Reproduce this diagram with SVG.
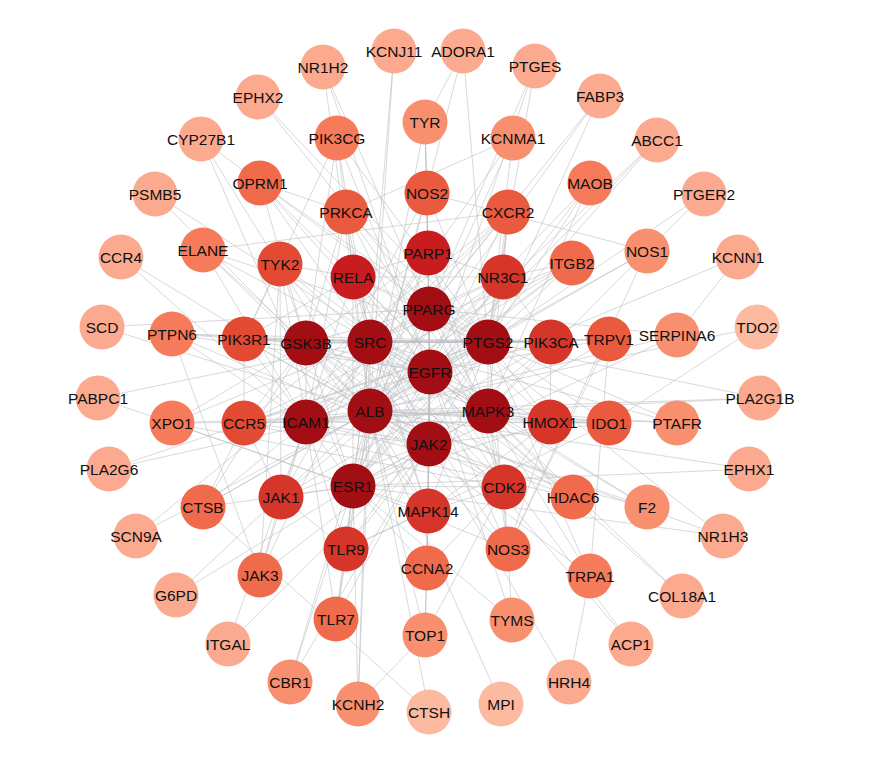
<svg xmlns="http://www.w3.org/2000/svg" width="878" height="768" viewBox="0 0 878 768">
<style>
.e line{stroke:#bcbfc3;stroke-width:0.8;stroke-opacity:0.75;fill:none}
.n circle{stroke:none}
.n text{font-family:"Liberation Sans",Arial,sans-serif;font-size:15.5px;fill:#101010;text-anchor:middle;dominant-baseline:central}
.t1 circle{fill:#a20e14}
.t2a circle{fill:#c91c1e}
.t2b circle{fill:#d6352a}
.t2c circle{fill:#e24a33}
.t3a circle{fill:#e95a3e}
.t3b circle{fill:#f06b4b}
.t3c circle{fill:#f57b5a}
.t4 circle{fill:#f8906f}
.t5 circle{fill:#fbaa8f}
.t6 circle{fill:#fcbba1}
</style>
<rect width="878" height="768" fill="#ffffff"/>
<g id="connectors" class="e">
<line x1="429" y1="309" x2="370" y2="342"/><line x1="429" y1="309" x2="306" y2="343"/><line x1="429" y1="309" x2="488" y2="342"/><line x1="429" y1="309" x2="430" y2="372"/><line x1="429" y1="309" x2="370" y2="411"/><line x1="429" y1="309" x2="306" y2="422"/><line x1="429" y1="309" x2="488" y2="411"/><line x1="429" y1="309" x2="429" y2="444"/><line x1="429" y1="309" x2="353" y2="486"/>
<line x1="370" y1="342" x2="306" y2="343"/><line x1="370" y1="342" x2="488" y2="342"/><line x1="370" y1="342" x2="430" y2="372"/><line x1="370" y1="342" x2="370" y2="411"/><line x1="370" y1="342" x2="306" y2="422"/><line x1="370" y1="342" x2="488" y2="411"/><line x1="370" y1="342" x2="429" y2="444"/><line x1="370" y1="342" x2="353" y2="486"/>
<line x1="306" y1="343" x2="488" y2="342"/><line x1="306" y1="343" x2="430" y2="372"/><line x1="306" y1="343" x2="370" y2="411"/><line x1="306" y1="343" x2="306" y2="422"/><line x1="306" y1="343" x2="488" y2="411"/><line x1="306" y1="343" x2="429" y2="444"/><line x1="306" y1="343" x2="353" y2="486"/>
<line x1="488" y1="342" x2="430" y2="372"/><line x1="488" y1="342" x2="370" y2="411"/><line x1="488" y1="342" x2="306" y2="422"/><line x1="488" y1="342" x2="488" y2="411"/><line x1="488" y1="342" x2="429" y2="444"/><line x1="488" y1="342" x2="353" y2="486"/>
<line x1="430" y1="372" x2="370" y2="411"/><line x1="430" y1="372" x2="306" y2="422"/><line x1="430" y1="372" x2="488" y2="411"/><line x1="430" y1="372" x2="429" y2="444"/><line x1="430" y1="372" x2="353" y2="486"/>
<line x1="370" y1="411" x2="306" y2="422"/><line x1="370" y1="411" x2="488" y2="411"/><line x1="370" y1="411" x2="429" y2="444"/><line x1="370" y1="411" x2="353" y2="486"/>
<line x1="306" y1="422" x2="488" y2="411"/><line x1="306" y1="422" x2="429" y2="444"/><line x1="306" y1="422" x2="353" y2="486"/>
<line x1="488" y1="411" x2="429" y2="444"/><line x1="488" y1="411" x2="353" y2="486"/><line x1="429" y1="444" x2="353" y2="486"/>
<line x1="353" y1="277" x2="429" y2="309"/><line x1="353" y1="277" x2="370" y2="342"/><line x1="353" y1="277" x2="430" y2="372"/><line x1="353" y1="277" x2="488" y2="411"/><line x1="353" y1="277" x2="488" y2="342"/><line x1="353" y1="277" x2="306" y2="422"/><line x1="353" y1="277" x2="353" y2="486"/><line x1="353" y1="277" x2="429" y2="444"/><line x1="353" y1="277" x2="428" y2="253"/><line x1="353" y1="277" x2="280" y2="264"/>
<line x1="428" y1="253" x2="429" y2="309"/><line x1="428" y1="253" x2="370" y2="342"/><line x1="428" y1="253" x2="430" y2="372"/><line x1="428" y1="253" x2="306" y2="343"/><line x1="428" y1="253" x2="370" y2="411"/><line x1="428" y1="253" x2="353" y2="486"/><line x1="428" y1="253" x2="488" y2="411"/>
<line x1="503" y1="277" x2="429" y2="309"/><line x1="503" y1="277" x2="488" y2="342"/><line x1="503" y1="277" x2="430" y2="372"/><line x1="503" y1="277" x2="353" y2="486"/><line x1="503" y1="277" x2="370" y2="411"/><line x1="503" y1="277" x2="370" y2="342"/><line x1="503" y1="277" x2="306" y2="422"/>
<line x1="551" y1="342" x2="488" y2="342"/><line x1="551" y1="342" x2="370" y2="342"/><line x1="551" y1="342" x2="306" y2="343"/><line x1="551" y1="342" x2="430" y2="372"/><line x1="551" y1="342" x2="488" y2="411"/><line x1="551" y1="342" x2="429" y2="444"/><line x1="551" y1="342" x2="244" y2="339"/>
<line x1="550" y1="422" x2="306" y2="422"/><line x1="550" y1="422" x2="488" y2="411"/><line x1="550" y1="422" x2="370" y2="411"/><line x1="550" y1="422" x2="429" y2="309"/><line x1="550" y1="422" x2="488" y2="342"/><line x1="550" y1="422" x2="430" y2="372"/><line x1="550" y1="422" x2="353" y2="486"/>
<line x1="504" y1="487" x2="488" y2="411"/><line x1="504" y1="487" x2="429" y2="444"/><line x1="504" y1="487" x2="430" y2="372"/><line x1="504" y1="487" x2="353" y2="486"/><line x1="504" y1="487" x2="306" y2="343"/><line x1="504" y1="487" x2="429" y2="309"/><line x1="504" y1="487" x2="370" y2="342"/>
<line x1="428" y1="511" x2="429" y2="444"/><line x1="428" y1="511" x2="430" y2="372"/><line x1="428" y1="511" x2="429" y2="309"/><line x1="428" y1="511" x2="370" y2="342"/><line x1="428" y1="511" x2="488" y2="342"/><line x1="428" y1="511" x2="370" y2="411"/><line x1="428" y1="511" x2="306" y2="343"/><line x1="428" y1="511" x2="353" y2="486"/>
<line x1="346" y1="549" x2="353" y2="486"/><line x1="346" y1="549" x2="370" y2="411"/><line x1="346" y1="549" x2="429" y2="444"/><line x1="346" y1="549" x2="306" y2="422"/><line x1="346" y1="549" x2="370" y2="342"/><line x1="346" y1="549" x2="488" y2="342"/>
<line x1="281" y1="497" x2="353" y2="486"/><line x1="281" y1="497" x2="306" y2="422"/><line x1="281" y1="497" x2="429" y2="444"/><line x1="281" y1="497" x2="370" y2="342"/><line x1="281" y1="497" x2="430" y2="372"/><line x1="281" y1="497" x2="280" y2="264"/><line x1="281" y1="497" x2="260" y2="575"/>
<line x1="244" y1="423" x2="306" y2="422"/><line x1="244" y1="423" x2="370" y2="411"/><line x1="244" y1="423" x2="306" y2="343"/><line x1="244" y1="423" x2="488" y2="411"/><line x1="244" y1="423" x2="430" y2="372"/><line x1="244" y1="423" x2="429" y2="444"/><line x1="244" y1="423" x2="488" y2="342"/>
<line x1="244" y1="339" x2="306" y2="343"/><line x1="244" y1="339" x2="370" y2="342"/><line x1="244" y1="339" x2="430" y2="372"/><line x1="244" y1="339" x2="488" y2="342"/><line x1="244" y1="339" x2="306" y2="422"/><line x1="244" y1="339" x2="370" y2="411"/><line x1="244" y1="339" x2="429" y2="444"/>
<line x1="280" y1="264" x2="306" y2="343"/><line x1="280" y1="264" x2="370" y2="342"/><line x1="280" y1="264" x2="429" y2="444"/><line x1="280" y1="264" x2="306" y2="422"/><line x1="280" y1="264" x2="430" y2="372"/>
<line x1="353" y1="277" x2="346" y2="212"/><line x1="353" y1="277" x2="503" y2="277"/><line x1="353" y1="277" x2="244" y2="339"/><line x1="428" y1="253" x2="503" y2="277"/><line x1="503" y1="277" x2="508" y2="212"/><line x1="503" y1="277" x2="572" y2="263"/><line x1="551" y1="342" x2="550" y2="422"/><line x1="551" y1="342" x2="503" y2="277"/><line x1="550" y1="422" x2="504" y2="487"/><line x1="504" y1="487" x2="428" y2="511"/><line x1="428" y1="511" x2="346" y2="549"/><line x1="346" y1="549" x2="281" y2="497"/><line x1="281" y1="497" x2="244" y2="423"/><line x1="244" y1="423" x2="244" y2="339"/><line x1="244" y1="339" x2="280" y2="264"/><line x1="428" y1="511" x2="550" y2="422"/><line x1="428" y1="511" x2="353" y2="277"/><line x1="428" y1="253" x2="504" y2="487"/><line x1="551" y1="342" x2="281" y2="497"/><line x1="244" y1="423" x2="508" y2="212"/><line x1="572" y1="263" x2="244" y2="423"/><line x1="609" y1="339" x2="508" y2="549"/><line x1="609" y1="423" x2="346" y2="549"/><line x1="573" y1="497" x2="244" y2="423"/><line x1="508" y1="549" x2="550" y2="422"/><line x1="172" y1="423" x2="504" y2="487"/><line x1="172" y1="334" x2="551" y2="342"/><line x1="203" y1="250" x2="508" y2="212"/><line x1="260" y1="183" x2="488" y2="342"/><line x1="260" y1="575" x2="172" y2="334"/><line x1="203" y1="507" x2="244" y2="423"/>
<line x1="346" y1="212" x2="370" y2="342"/><line x1="346" y1="212" x2="430" y2="372"/><line x1="346" y1="212" x2="306" y2="343"/><line x1="346" y1="212" x2="488" y2="342"/><line x1="346" y1="212" x2="488" y2="411"/><line x1="346" y1="212" x2="370" y2="411"/><line x1="346" y1="212" x2="306" y2="422"/>
<line x1="427" y1="193" x2="429" y2="309"/><line x1="427" y1="193" x2="428" y2="253"/><line x1="427" y1="193" x2="430" y2="372"/><line x1="427" y1="193" x2="370" y2="411"/><line x1="427" y1="193" x2="306" y2="422"/><line x1="427" y1="193" x2="488" y2="342"/>
<line x1="508" y1="212" x2="488" y2="342"/><line x1="508" y1="212" x2="306" y2="422"/><line x1="508" y1="212" x2="488" y2="411"/><line x1="508" y1="212" x2="430" y2="372"/><line x1="508" y1="212" x2="370" y2="342"/><line x1="508" y1="212" x2="429" y2="309"/>
<line x1="572" y1="263" x2="306" y2="422"/><line x1="572" y1="263" x2="370" y2="342"/><line x1="572" y1="263" x2="488" y2="342"/><line x1="572" y1="263" x2="370" y2="411"/><line x1="572" y1="263" x2="430" y2="372"/>
<line x1="609" y1="339" x2="488" y2="342"/><line x1="609" y1="339" x2="488" y2="411"/><line x1="609" y1="339" x2="551" y2="342"/><line x1="609" y1="339" x2="370" y2="342"/><line x1="609" y1="339" x2="430" y2="372"/>
<line x1="609" y1="423" x2="488" y2="411"/><line x1="609" y1="423" x2="488" y2="342"/><line x1="609" y1="423" x2="550" y2="422"/><line x1="609" y1="423" x2="429" y2="444"/><line x1="609" y1="423" x2="370" y2="411"/><line x1="609" y1="423" x2="306" y2="422"/>
<line x1="573" y1="497" x2="488" y2="411"/><line x1="573" y1="497" x2="430" y2="372"/><line x1="573" y1="497" x2="306" y2="343"/><line x1="573" y1="497" x2="429" y2="444"/><line x1="573" y1="497" x2="370" y2="342"/>
<line x1="508" y1="549" x2="488" y2="411"/><line x1="508" y1="549" x2="370" y2="411"/><line x1="508" y1="549" x2="353" y2="486"/><line x1="508" y1="549" x2="430" y2="372"/><line x1="508" y1="549" x2="488" y2="342"/><line x1="508" y1="549" x2="370" y2="342"/>
<line x1="427" y1="568" x2="504" y2="487"/><line x1="427" y1="568" x2="428" y2="511"/><line x1="427" y1="568" x2="429" y2="444"/><line x1="427" y1="568" x2="353" y2="486"/><line x1="427" y1="568" x2="430" y2="372"/><line x1="427" y1="568" x2="425" y2="635"/>
<line x1="260" y1="575" x2="429" y2="444"/><line x1="260" y1="575" x2="306" y2="422"/><line x1="260" y1="575" x2="280" y2="264"/><line x1="260" y1="575" x2="370" y2="342"/>
<line x1="203" y1="507" x2="306" y2="422"/><line x1="203" y1="507" x2="370" y2="411"/><line x1="203" y1="507" x2="353" y2="486"/><line x1="203" y1="507" x2="306" y2="343"/><line x1="203" y1="507" x2="488" y2="342"/>
<line x1="172" y1="423" x2="306" y2="422"/><line x1="172" y1="423" x2="306" y2="343"/><line x1="172" y1="423" x2="353" y2="486"/><line x1="172" y1="423" x2="488" y2="411"/><line x1="172" y1="423" x2="370" y2="342"/>
<line x1="172" y1="334" x2="306" y2="343"/><line x1="172" y1="334" x2="370" y2="342"/><line x1="172" y1="334" x2="429" y2="444"/><line x1="172" y1="334" x2="430" y2="372"/><line x1="172" y1="334" x2="306" y2="422"/>
<line x1="203" y1="250" x2="306" y2="422"/><line x1="203" y1="250" x2="370" y2="411"/><line x1="203" y1="250" x2="306" y2="343"/><line x1="203" y1="250" x2="488" y2="342"/><line x1="203" y1="250" x2="430" y2="372"/>
<line x1="260" y1="183" x2="370" y2="342"/><line x1="260" y1="183" x2="306" y2="343"/><line x1="260" y1="183" x2="488" y2="411"/><line x1="260" y1="183" x2="430" y2="372"/><line x1="260" y1="183" x2="346" y2="212"/>
<line x1="337" y1="138" x2="370" y2="342"/><line x1="337" y1="138" x2="488" y2="342"/><line x1="337" y1="138" x2="306" y2="343"/><line x1="337" y1="138" x2="244" y2="339"/><line x1="337" y1="138" x2="430" y2="372"/><line x1="337" y1="138" x2="346" y2="212"/>
<line x1="336" y1="619" x2="346" y2="549"/><line x1="336" y1="619" x2="353" y2="486"/><line x1="336" y1="619" x2="429" y2="444"/><line x1="336" y1="619" x2="306" y2="422"/><line x1="336" y1="619" x2="370" y2="411"/>
<line x1="425" y1="122" x2="429" y2="309"/><line x1="425" y1="122" x2="430" y2="372"/><line x1="425" y1="122" x2="427" y2="193"/><line x1="425" y1="122" x2="370" y2="411"/>
<line x1="513" y1="138" x2="488" y2="342"/><line x1="513" y1="138" x2="353" y2="486"/><line x1="513" y1="138" x2="346" y2="212"/><line x1="513" y1="138" x2="370" y2="342"/>
<line x1="590" y1="183" x2="353" y2="486"/><line x1="590" y1="183" x2="488" y2="342"/><line x1="590" y1="183" x2="488" y2="411"/><line x1="590" y1="183" x2="370" y2="411"/>
<line x1="647" y1="251" x2="427" y2="193"/><line x1="647" y1="251" x2="508" y2="549"/><line x1="647" y1="251" x2="488" y2="342"/><line x1="647" y1="251" x2="430" y2="372"/>
<line x1="677" y1="335" x2="370" y2="411"/><line x1="677" y1="335" x2="353" y2="486"/><line x1="677" y1="335" x2="429" y2="309"/>
<line x1="677" y1="423" x2="488" y2="342"/><line x1="677" y1="423" x2="370" y2="411"/><line x1="677" y1="423" x2="488" y2="411"/><line x1="677" y1="423" x2="370" y2="342"/>
<line x1="647" y1="507" x2="370" y2="411"/><line x1="647" y1="507" x2="430" y2="372"/><line x1="647" y1="507" x2="306" y2="422"/><line x1="647" y1="507" x2="370" y2="342"/>
<line x1="590" y1="576" x2="609" y2="339"/><line x1="590" y1="576" x2="488" y2="342"/><line x1="590" y1="576" x2="488" y2="411"/><line x1="590" y1="576" x2="370" y2="411"/>
<line x1="512" y1="620" x2="430" y2="372"/><line x1="512" y1="620" x2="353" y2="486"/><line x1="512" y1="620" x2="504" y2="487"/>
<line x1="425" y1="635" x2="430" y2="372"/><line x1="425" y1="635" x2="504" y2="487"/><line x1="425" y1="635" x2="370" y2="411"/>
<line x1="358" y1="704" x2="353" y2="486"/><line x1="358" y1="704" x2="370" y2="342"/><line x1="358" y1="704" x2="370" y2="411"/><line x1="358" y1="704" x2="425" y2="635"/>
<line x1="290" y1="682" x2="370" y2="411"/><line x1="290" y1="682" x2="353" y2="486"/><line x1="290" y1="682" x2="429" y2="444"/>
<line x1="323" y1="67" x2="429" y2="309"/><line x1="323" y1="67" x2="430" y2="372"/><line x1="323" y1="67" x2="370" y2="411"/>
<line x1="394" y1="51" x2="370" y2="411"/><line x1="394" y1="51" x2="370" y2="342"/>
<line x1="463" y1="51" x2="488" y2="342"/><line x1="463" y1="51" x2="370" y2="411"/><line x1="463" y1="51" x2="425" y2="122"/>
<line x1="535" y1="66" x2="488" y2="342"/><line x1="535" y1="66" x2="430" y2="372"/><line x1="535" y1="66" x2="429" y2="309"/>
<line x1="600" y1="96" x2="429" y2="309"/><line x1="600" y1="96" x2="370" y2="411"/><line x1="600" y1="96" x2="488" y2="342"/>
<line x1="657" y1="140" x2="370" y2="411"/><line x1="657" y1="140" x2="430" y2="372"/><line x1="657" y1="140" x2="353" y2="486"/>
<line x1="704" y1="194" x2="488" y2="342"/><line x1="704" y1="194" x2="488" y2="411"/>
<line x1="738" y1="257" x2="370" y2="411"/><line x1="738" y1="257" x2="677" y2="335"/>
<line x1="757" y1="327" x2="609" y2="423"/><line x1="757" y1="327" x2="370" y2="411"/>
<line x1="760" y1="398" x2="488" y2="342"/><line x1="760" y1="398" x2="370" y2="411"/><line x1="760" y1="398" x2="488" y2="411"/>
<line x1="749" y1="469" x2="370" y2="411"/><line x1="749" y1="469" x2="353" y2="486"/>
<line x1="723" y1="536" x2="429" y2="309"/><line x1="723" y1="536" x2="370" y2="411"/><line x1="723" y1="536" x2="353" y2="486"/>
<line x1="682" y1="596" x2="430" y2="372"/><line x1="682" y1="596" x2="488" y2="411"/>
<line x1="631" y1="644" x2="370" y2="342"/><line x1="631" y1="644" x2="430" y2="372"/>
<line x1="569" y1="682" x2="429" y2="444"/><line x1="569" y1="682" x2="590" y2="576"/>
<line x1="501" y1="704" x2="370" y2="411"/>
<line x1="429" y1="712" x2="370" y2="411"/><line x1="429" y1="712" x2="203" y2="507"/>
<line x1="228" y1="644" x2="306" y2="422"/><line x1="228" y1="644" x2="429" y2="444"/>
<line x1="176" y1="595" x2="370" y2="411"/><line x1="176" y1="595" x2="353" y2="486"/>
<line x1="136" y1="536" x2="370" y2="342"/><line x1="136" y1="536" x2="370" y2="411"/>
<line x1="109" y1="469" x2="488" y2="342"/><line x1="109" y1="469" x2="370" y2="411"/>
<line x1="98" y1="398" x2="353" y2="486"/><line x1="98" y1="398" x2="370" y2="342"/>
<line x1="102" y1="327" x2="429" y2="309"/><line x1="102" y1="327" x2="370" y2="411"/>
<line x1="121" y1="257" x2="306" y2="422"/><line x1="121" y1="257" x2="429" y2="444"/>
<line x1="155" y1="194" x2="430" y2="372"/><line x1="155" y1="194" x2="370" y2="411"/>
<line x1="201" y1="139" x2="370" y2="411"/><line x1="201" y1="139" x2="353" y2="486"/><line x1="201" y1="139" x2="429" y2="309"/>
<line x1="258" y1="97" x2="488" y2="342"/><line x1="258" y1="97" x2="429" y2="309"/>
</g>
<g id="nodes">
<g id="n-PPARG" class="n t1"><circle cx="429" cy="309" r="22.5"/><text x="429" y="309">PPARG</text></g>
<g id="n-SRC" class="n t1"><circle cx="370" cy="342" r="22.5"/><text x="370" y="342">SRC</text></g>
<g id="n-GSK3B" class="n t1"><circle cx="306" cy="343" r="22.5"/><text x="306" y="343">GSK3B</text></g>
<g id="n-PTGS2" class="n t1"><circle cx="488" cy="342" r="22.5"/><text x="488" y="342">PTGS2</text></g>
<g id="n-EGFR" class="n t1"><circle cx="430" cy="372" r="22.5"/><text x="430" y="372">EGFR</text></g>
<g id="n-ALB" class="n t1"><circle cx="370" cy="411" r="22.5"/><text x="370" y="411">ALB</text></g>
<g id="n-ICAM1" class="n t1"><circle cx="306" cy="422" r="22.5"/><text x="306" y="422">ICAM1</text></g>
<g id="n-MAPK3" class="n t1"><circle cx="488" cy="411" r="22.5"/><text x="488" y="411">MAPK3</text></g>
<g id="n-JAK2" class="n t1"><circle cx="429" cy="444" r="22.5"/><text x="429" y="444">JAK2</text></g>
<g id="n-ESR1" class="n t1"><circle cx="353" cy="486" r="22.5"/><text x="353" y="486">ESR1</text></g>
<g id="n-RELA" class="n t2a"><circle cx="353" cy="277" r="22.5"/><text x="353" y="277">RELA</text></g>
<g id="n-PARP1" class="n t2a"><circle cx="428" cy="253" r="22.5"/><text x="428" y="253">PARP1</text></g>
<g id="n-NR3C1" class="n t2b"><circle cx="503" cy="277" r="22.5"/><text x="503" y="277">NR3C1</text></g>
<g id="n-PIK3CA" class="n t2b"><circle cx="551" cy="342" r="22.5"/><text x="551" y="342">PIK3CA</text></g>
<g id="n-HMOX1" class="n t2b"><circle cx="550" cy="422" r="22.5"/><text x="550" y="422">HMOX1</text></g>
<g id="n-CDK2" class="n t2b"><circle cx="504" cy="487" r="22.5"/><text x="504" y="487">CDK2</text></g>
<g id="n-MAPK14" class="n t2b"><circle cx="428" cy="511" r="22.5"/><text x="428" y="511">MAPK14</text></g>
<g id="n-TLR9" class="n t2b"><circle cx="346" cy="549" r="22.5"/><text x="346" y="549">TLR9</text></g>
<g id="n-JAK1" class="n t2b"><circle cx="281" cy="497" r="22.5"/><text x="281" y="497">JAK1</text></g>
<g id="n-CCR5" class="n t2c"><circle cx="244" cy="423" r="22.5"/><text x="244" y="423">CCR5</text></g>
<g id="n-PIK3R1" class="n t2c"><circle cx="244" cy="339" r="22.5"/><text x="244" y="339">PIK3R1</text></g>
<g id="n-TYK2" class="n t2c"><circle cx="280" cy="264" r="22.5"/><text x="280" y="264">TYK2</text></g>
<g id="n-PRKCA" class="n t3a"><circle cx="346" cy="212" r="22.5"/><text x="346" y="212">PRKCA</text></g>
<g id="n-NOS2" class="n t3a"><circle cx="427" cy="193" r="22.5"/><text x="427" y="193">NOS2</text></g>
<g id="n-CXCR2" class="n t3a"><circle cx="508" cy="212" r="22.5"/><text x="508" y="212">CXCR2</text></g>
<g id="n-ITGB2" class="n t3b"><circle cx="572" cy="263" r="22.5"/><text x="572" y="263">ITGB2</text></g>
<g id="n-TRPV1" class="n t3a"><circle cx="609" cy="339" r="22.5"/><text x="609" y="339">TRPV1</text></g>
<g id="n-IDO1" class="n t3a"><circle cx="609" cy="423" r="22.5"/><text x="609" y="423">IDO1</text></g>
<g id="n-HDAC6" class="n t3b"><circle cx="573" cy="497" r="22.5"/><text x="573" y="497">HDAC6</text></g>
<g id="n-NOS3" class="n t3b"><circle cx="508" cy="549" r="22.5"/><text x="508" y="549">NOS3</text></g>
<g id="n-CCNA2" class="n t3b"><circle cx="427" cy="568" r="22.5"/><text x="427" y="568">CCNA2</text></g>
<g id="n-JAK3" class="n t3b"><circle cx="260" cy="575" r="22.5"/><text x="260" y="575">JAK3</text></g>
<g id="n-CTSB" class="n t3b"><circle cx="203" cy="507" r="22.5"/><text x="203" y="507">CTSB</text></g>
<g id="n-XPO1" class="n t3c"><circle cx="172" cy="423" r="22.5"/><text x="172" y="423">XPO1</text></g>
<g id="n-PTPN6" class="n t3c"><circle cx="172" cy="334" r="22.5"/><text x="172" y="334">PTPN6</text></g>
<g id="n-ELANE" class="n t3c"><circle cx="203" cy="250" r="22.5"/><text x="203" y="250">ELANE</text></g>
<g id="n-OPRM1" class="n t3b"><circle cx="260" cy="183" r="22.5"/><text x="260" y="183">OPRM1</text></g>
<g id="n-PIK3CG" class="n t3c"><circle cx="337" cy="138" r="22.5"/><text x="337" y="138">PIK3CG</text></g>
<g id="n-TLR7" class="n t3b"><circle cx="336" cy="619" r="22.5"/><text x="336" y="619">TLR7</text></g>
<g id="n-TYR" class="n t4"><circle cx="425" cy="122" r="22.5"/><text x="425" y="122">TYR</text></g>
<g id="n-KCNMA1" class="n t4"><circle cx="513" cy="138" r="22.5"/><text x="513" y="138">KCNMA1</text></g>
<g id="n-MAOB" class="n t3c"><circle cx="590" cy="183" r="22.5"/><text x="590" y="183">MAOB</text></g>
<g id="n-NOS1" class="n t4"><circle cx="647" cy="251" r="22.5"/><text x="647" y="251">NOS1</text></g>
<g id="n-SERPINA6" class="n t4"><circle cx="677" cy="335" r="22.5"/><text x="677" y="335">SERPINA6</text></g>
<g id="n-PTAFR" class="n t4"><circle cx="677" cy="423" r="22.5"/><text x="677" y="423">PTAFR</text></g>
<g id="n-F2" class="n t4"><circle cx="647" cy="507" r="22.5"/><text x="647" y="507">F2</text></g>
<g id="n-TRPA1" class="n t3c"><circle cx="590" cy="576" r="22.5"/><text x="590" y="576">TRPA1</text></g>
<g id="n-TYMS" class="n t4"><circle cx="512" cy="620" r="22.5"/><text x="512" y="620">TYMS</text></g>
<g id="n-TOP1" class="n t4"><circle cx="425" cy="635" r="22.5"/><text x="425" y="635">TOP1</text></g>
<g id="n-KCNH2" class="n t4"><circle cx="358" cy="704" r="22.5"/><text x="358" y="704">KCNH2</text></g>
<g id="n-CBR1" class="n t4"><circle cx="290" cy="682" r="22.5"/><text x="290" y="682">CBR1</text></g>
<g id="n-NR1H2" class="n t5"><circle cx="323" cy="67" r="22.5"/><text x="323" y="67">NR1H2</text></g>
<g id="n-KCNJ11" class="n t5"><circle cx="394" cy="51" r="22.5"/><text x="394" y="51">KCNJ11</text></g>
<g id="n-ADORA1" class="n t5"><circle cx="463" cy="51" r="22.5"/><text x="463" y="51">ADORA1</text></g>
<g id="n-PTGES" class="n t5"><circle cx="535" cy="66" r="22.5"/><text x="535" y="66">PTGES</text></g>
<g id="n-FABP3" class="n t5"><circle cx="600" cy="96" r="22.5"/><text x="600" y="96">FABP3</text></g>
<g id="n-ABCC1" class="n t5"><circle cx="657" cy="140" r="22.5"/><text x="657" y="140">ABCC1</text></g>
<g id="n-PTGER2" class="n t5"><circle cx="704" cy="194" r="22.5"/><text x="704" y="194">PTGER2</text></g>
<g id="n-KCNN1" class="n t5"><circle cx="738" cy="257" r="22.5"/><text x="738" y="257">KCNN1</text></g>
<g id="n-TDO2" class="n t6"><circle cx="757" cy="327" r="22.5"/><text x="757" y="327">TDO2</text></g>
<g id="n-PLA2G1B" class="n t5"><circle cx="760" cy="398" r="22.5"/><text x="760" y="398">PLA2G1B</text></g>
<g id="n-EPHX1" class="n t5"><circle cx="749" cy="469" r="22.5"/><text x="749" y="469">EPHX1</text></g>
<g id="n-NR1H3" class="n t5"><circle cx="723" cy="536" r="22.5"/><text x="723" y="536">NR1H3</text></g>
<g id="n-COL18A1" class="n t5"><circle cx="682" cy="596" r="22.5"/><text x="682" y="596">COL18A1</text></g>
<g id="n-ACP1" class="n t5"><circle cx="631" cy="644" r="22.5"/><text x="631" y="644">ACP1</text></g>
<g id="n-HRH4" class="n t5"><circle cx="569" cy="682" r="22.5"/><text x="569" y="682">HRH4</text></g>
<g id="n-MPI" class="n t6"><circle cx="501" cy="704" r="22.5"/><text x="501" y="704">MPI</text></g>
<g id="n-CTSH" class="n t6"><circle cx="429" cy="712" r="22.5"/><text x="429" y="712">CTSH</text></g>
<g id="n-ITGAL" class="n t5"><circle cx="228" cy="644" r="22.5"/><text x="228" y="644">ITGAL</text></g>
<g id="n-G6PD" class="n t5"><circle cx="176" cy="595" r="22.5"/><text x="176" y="595">G6PD</text></g>
<g id="n-SCN9A" class="n t5"><circle cx="136" cy="536" r="22.5"/><text x="136" y="536">SCN9A</text></g>
<g id="n-PLA2G6" class="n t5"><circle cx="109" cy="469" r="22.5"/><text x="109" y="469">PLA2G6</text></g>
<g id="n-PABPC1" class="n t5"><circle cx="98" cy="398" r="22.5"/><text x="98" y="398">PABPC1</text></g>
<g id="n-SCD" class="n t5"><circle cx="102" cy="327" r="22.5"/><text x="102" y="327">SCD</text></g>
<g id="n-CCR4" class="n t5"><circle cx="121" cy="257" r="22.5"/><text x="121" y="257">CCR4</text></g>
<g id="n-PSMB5" class="n t5"><circle cx="155" cy="194" r="22.5"/><text x="155" y="194">PSMB5</text></g>
<g id="n-CYP27B1" class="n t5"><circle cx="201" cy="139" r="22.5"/><text x="201" y="139">CYP27B1</text></g>
<g id="n-EPHX2" class="n t5"><circle cx="258" cy="97" r="22.5"/><text x="258" y="97">EPHX2</text></g>
</g>
</svg>
